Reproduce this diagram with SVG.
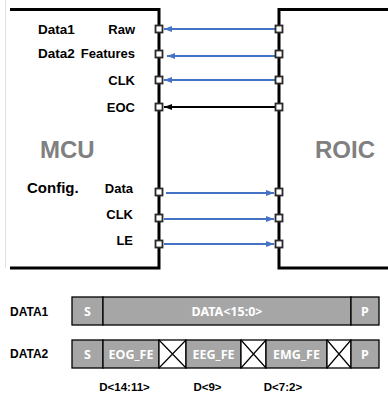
<svg xmlns="http://www.w3.org/2000/svg" width="388" height="398" viewBox="0 0 388 398">
<style>
.box{fill:none;stroke:#000;stroke-width:3}
.port{fill:#fff;stroke:#2a2a2a;stroke-width:1.8}
.lbl{font-family:"Liberation Sans",Arial,sans-serif;font-weight:bold;font-size:13px;fill:#000}
.big{font-family:"Liberation Sans",Arial,sans-serif;font-weight:bold;font-size:24px;fill:#808080}
.blue{stroke:#4472C4;stroke-width:2;fill:none}
.blk{stroke:#000;stroke-width:2;fill:none}
.cell{fill:#A6A6A6;stroke:#000;stroke-width:1.3}
.xc{fill:#fff;stroke:#000;stroke-width:1.3}
.ct{font-family:"Noto Sans","Open Sans",sans-serif;font-weight:bold;font-size:12.5px;fill:#fff;text-anchor:middle}
.bt{font-family:"Liberation Sans",Arial,sans-serif;font-weight:bold;font-size:12px;fill:#000}
</style>
<defs>
<marker id="ab" viewBox="0 0 8 6" refX="8" refY="3" markerWidth="8" markerHeight="6" markerUnits="userSpaceOnUse" orient="auto"><path d="M0,0 L8,3 L0,6 z" fill="#4472C4"/></marker>
<marker id="ak" viewBox="0 0 8 6" refX="8" refY="3" markerWidth="8" markerHeight="6" markerUnits="userSpaceOnUse" orient="auto"><path d="M0,0 L8,3 L0,6 z" fill="#000"/></marker>
</defs>
<line x1="5.5" y1="0" x2="5.5" y2="268" stroke="#e0e0e0" stroke-width="1"/>
<g id="mcu">
<path class="box" d="M10,9.5 H159 V268 H10"/>
<text class="big" x="40" y="158">MCU</text>
<text class="lbl" x="38" y="34" style="font-size:13.5px">Data1</text>
<text class="lbl" x="38" y="58" style="font-size:13.5px">Data2</text>
<text class="lbl" x="27" y="193" style="font-size:15px">Config.</text>
<g class="lbl" text-anchor="end">
<text x="135" y="34">Raw</text>
<text x="135" y="58">Features</text>
<text x="135" y="85">CLK</text>
<text x="135" y="112">EOC</text>
<text x="133" y="193">Data</text>
<text x="133" y="219">CLK</text>
<text x="133" y="245">LE</text>
</g>
</g>
<g id="roic">
<path class="box" d="M388,9.5 H279 V268 H388"/>
<text class="big" x="315" y="158">ROIC</text>
</g>
<g id="connectors">
<line class="blue" x1="275" y1="29" x2="164" y2="29" marker-end="url(#ab)"/>
<line class="blue" x1="275" y1="56" x2="167" y2="56" marker-end="url(#ab)"/>
<line class="blue" x1="275" y1="80" x2="164" y2="80" marker-end="url(#ab)"/>
<line class="blk" x1="275" y1="107" x2="164" y2="107" marker-end="url(#ak)"/>
<line class="blue" x1="166" y1="193" x2="274" y2="193" marker-end="url(#ab)"/>
<line class="blue" x1="164" y1="219" x2="274" y2="219" marker-end="url(#ab)"/>
<line class="blue" x1="164" y1="244" x2="274" y2="244" marker-end="url(#ab)"/>
</g>
<g id="ports">
<rect class="port" x="155.5" y="25.5" width="7" height="7"/>
<rect class="port" x="155.5" y="50.5" width="7" height="7"/>
<rect class="port" x="155.5" y="76.5" width="7" height="7"/>
<rect class="port" x="155.5" y="103.5" width="7" height="7"/>
<rect class="port" x="155.5" y="188.5" width="7" height="7"/>
<rect class="port" x="155.5" y="214.5" width="7" height="7"/>
<rect class="port" x="155.5" y="240.5" width="7" height="7"/>
<rect class="port" x="275.5" y="25.5" width="7" height="7"/>
<rect class="port" x="275.5" y="50.5" width="7" height="7"/>
<rect class="port" x="275.5" y="76.5" width="7" height="7"/>
<rect class="port" x="275.5" y="103.5" width="7" height="7"/>
<rect class="port" x="275.5" y="188.5" width="7" height="7"/>
<rect class="port" x="275.5" y="214.5" width="7" height="7"/>
<rect class="port" x="275.5" y="240.5" width="7" height="7"/>
</g>
<g id="data1">
<text class="bt" x="10" y="316">DATA1</text>
<rect class="cell" x="72" y="297" width="31" height="28"/>
<rect class="cell" x="103" y="297" width="248" height="28"/>
<rect class="cell" x="351" y="297" width="28" height="28"/>
<text class="ct" x="87.5" y="316">S</text>
<text class="ct" x="227" y="316">DATA&lt;15:0&gt;</text>
<text class="ct" x="365" y="316">P</text>
</g>
<g id="data2">
<text class="bt" x="10" y="358">DATA2</text>
<rect class="cell" x="72" y="340" width="31" height="28"/>
<rect class="cell" x="103" y="340" width="56" height="28"/>
<rect class="xc" x="159" y="340" width="27" height="28"/>
<path d="M159,340 L186,368 M186,340 L159,368" stroke="#000" stroke-width="1.2"/>
<rect class="cell" x="186" y="340" width="55" height="28"/>
<rect class="xc" x="241" y="340" width="25" height="28"/>
<path d="M241,340 L266,368 M266,340 L241,368" stroke="#000" stroke-width="1.2"/>
<rect class="cell" x="266" y="340" width="61" height="28"/>
<rect class="xc" x="327" y="340" width="24" height="28"/>
<path d="M327,340 L351,368 M351,340 L327,368" stroke="#000" stroke-width="1.2"/>
<rect class="cell" x="351" y="340" width="28" height="28"/>
<text class="ct" x="87.5" y="359">S</text>
<text class="ct" x="131" y="359">EOG_FE</text>
<text class="ct" x="213.5" y="359">EEG_FE</text>
<text class="ct" x="296.5" y="359">EMG_FE</text>
<text class="ct" x="365" y="359">P</text>
<g class="bt" text-anchor="middle" style="font-size:11.5px">
<text x="124.5" y="391">D&lt;14:11&gt;</text>
<text x="207.5" y="391">D&lt;9&gt;</text>
<text x="283" y="391">D&lt;7:2&gt;</text>
</g>
</g>
</svg>
